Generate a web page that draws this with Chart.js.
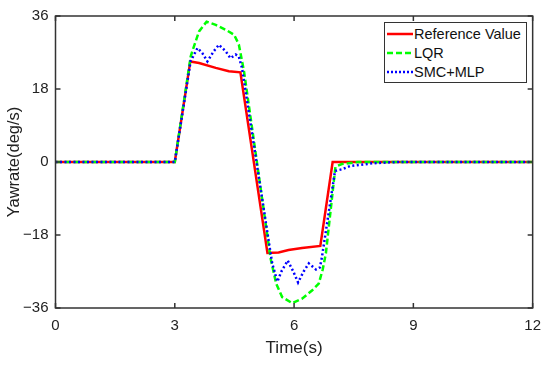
<!DOCTYPE html>
<html>
<head>
<meta charset="utf-8">
<script src="https://cdn.jsdelivr.net/npm/chart.js@4"></script>
<style>
  html, body { margin: 0; padding: 0; background: #fff; }
  #wrap { position: relative; width: 550px; height: 365px; font-family: "Liberation Sans", Arial, sans-serif; }
  #legend { position: absolute; left: 384px; top: 22px; width: 143px; height: 61px; box-sizing: border-box;
            border: 1.5px solid #333; background: #fff; }
  .row { position: absolute; left: 2px; height: 18px; display: flex; align-items: center; font-size: 14.5px; color: #111; }
  .row svg { width: 26px; height: 6px; margin-right: 1px; }
</style>
</head>
<body>
<div id="wrap">
  <canvas id="yaw_chart" width="550" height="365"></canvas>
  <div id="legend">
    <div class="row" style="top:2px"><svg><line x1="0" y1="3" x2="26" y2="3" stroke="#ff0000" stroke-width="2.5"/></svg>Reference Value</div>
    <div class="row" style="top:21px"><svg><line x1="0" y1="3" x2="26" y2="3" stroke="#00ff00" stroke-width="2.5" stroke-dasharray="6 3"/></svg>LQR</div>
    <div class="row" style="top:40px"><svg><line x1="0" y1="3" x2="26" y2="3" stroke="#0000ff" stroke-width="2.5" stroke-dasharray="2 2"/></svg>SMC+MLP</div>
  </div>
</div>
<script>
// values
const refT = [0, 3.0, 3.39, 3.61, 4.03, 4.36, 4.65, 5.33, 5.61, 5.86, 6.2, 6.66, 6.97, 12];
const refY = [0, 0, 24.8, 24.4, 23.2, 22.4, 22.1, -22.4, -22.3, -21.7, -21.2, -20.7, 0, 0];

const lqrT = [0, 3.0, 3.40, 3.44, 3.61, 3.8, 4.03, 4.28, 4.49, 4.61, 4.74, 5.41, 5.55, 5.7, 5.95, 6.2, 6.45, 6.62, 6.72, 6.8, 7.04, 7.2, 7.6, 12];
const lqrY = [0, 0, 26, 27.3, 32.2, 34.6, 33.8, 32.6, 31.4, 29.0, 22.4, -23.8, -30, -33.3, -34.8, -33.7, -31.7, -30, -26.5, -22.5, -1.2, -0.5, 0, 0];

const smcT = [0, 3.0, 3.40, 3.44, 3.57, 3.69, 3.82, 3.98, 4.11, 4.28, 4.40, 4.53, 4.61, 4.69, 5.36, 5.45, 5.58, 5.68, 5.84, 5.98, 6.1, 6.24, 6.37, 6.55, 6.65, 6.7, 7.03, 7.2, 7.41, 7.74, 7.99, 8.6, 12];
const smcY = [0, 0, 25, 25.6, 28.1, 26.9, 24.8, 27.3, 28.9, 27.3, 25.6, 26.5, 26.0, 23.2, -19.4, -25, -29.5, -27, -24.3, -27, -29.7, -27, -25, -26.5, -26, -23.5, -2.2, -1.8, -1.0, -0.6, -0.3, 0, 0];

const xTicks = [0, 3, 6, 9, 12];
const yTicks = [-36, -18, 0, 18, 36];

function pts(t, v) {
    return t.map((tt, i) => ({ x: tt, y: v[i] }));
}

// box around plot area with inward ticks
const framePlugin = {
    id: 'frame',
    afterDraw(chart) {
        const { ctx, chartArea: a, scales } = chart;
        ctx.save();
        ctx.strokeStyle = '#333';
        ctx.lineWidth = 1.5;
        ctx.strokeRect(a.left, a.top, a.right - a.left, a.bottom - a.top);
        ctx.beginPath();
        xTicks.forEach(v => {
            const px = scales.x.getPixelForValue(v);
            ctx.moveTo(px, a.bottom); ctx.lineTo(px, a.bottom - 5);
            ctx.moveTo(px, a.top); ctx.lineTo(px, a.top + 5);
        });
        yTicks.forEach(v => {
            const py = scales.y.getPixelForValue(v);
            ctx.moveTo(a.left, py); ctx.lineTo(a.left + 5, py);
            ctx.moveTo(a.right, py); ctx.lineTo(a.right - 5, py);
        });
        ctx.stroke();
        ctx.restore();
    }
};

const ctx = document.getElementById('yaw_chart').getContext('2d');
new Chart(ctx, {
    type: 'line',
    data: {
        datasets: [
            {
                label: 'Reference Value',
                data: pts(refT, refY),
                borderColor: '#ff0000',
                borderWidth: 2.5,
                order: 3
            },
            {
                label: 'LQR',
                data: pts(lqrT, lqrY),
                borderColor: '#00ff00',
                borderWidth: 2.5,
                borderDash: [6, 3],
                order: 2
            },
            {
                label: 'SMC+MLP',
                data: pts(smcT, smcY),
                borderColor: '#0000ff',
                borderWidth: 2.5,
                borderDash: [2, 2.5],
                order: 1
            }
        ]
    },
    options: {
        responsive: false,
        animation: false,
        devicePixelRatio: 1,
        layout: { padding: { top: 15, right: 17, left: 0, bottom: 0 } },
        elements: { point: { radius: 0 }, line: { tension: 0, fill: false } },
        plugins: { legend: { display: false }, tooltip: { enabled: false } },
        scales: {
            x: {
                type: 'linear',
                min: 0, max: 12,
                grid: { display: false, drawTicks: false },
                border: { display: false },
                afterBuildTicks: s => { s.ticks = xTicks.map(v => ({ value: v })); },
                afterFit: s => { s.height = 57; },
                ticks: { padding: 9, color: '#222', font: { family: '"Liberation Sans", Arial', size: 15 } },
                title: { display: true, text: 'Time(s)', color: '#222', padding: { top: 0, bottom: 6 },
                         font: { family: '"Liberation Sans", Arial', size: 17 } }
            },
            y: {
                min: -36, max: 36,
                grid: { display: false, drawTicks: false },
                border: { display: false },
                afterBuildTicks: s => { s.ticks = yTicks.map(v => ({ value: v })); },
                afterFit: s => { s.width = 55.5; },
                ticks: {
                    padding: 7, color: '#222',
                    font: { family: '"Liberation Sans", Arial', size: 15 },
                    callback: v => String(v).replace('-', '\u2212')
                },
                title: { display: true, text: 'Yawrate(deg/s)', color: '#222', padding: { top: 5, bottom: 0 },
                         font: { family: '"Liberation Sans", Arial', size: 16.5 } }
            }
        }
    },
    plugins: [framePlugin]
});
</script>
</body>
</html>
